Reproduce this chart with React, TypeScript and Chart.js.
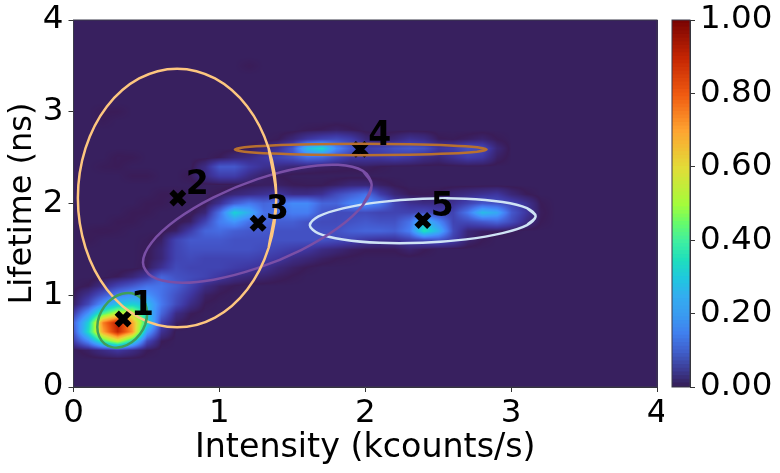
import { useEffect, useRef } from "react";
import { Chart, registerables } from "chart.js";

Chart.register(...registerables);

const FONT = "'DejaVu Sans'";
const axisLimits = [0, 4];
const axisTicks = [0, 1, 2, 3, 4];
const xTitle = "Intensity (kcounts/s)";
const yTitle = "Lifetime (ns)";

// density in hundredths; grid step 0.1 in both axes, first row at lifetime 0.4, first column at intensity 0
const gridStep = 0.1;
const firstRowY = 0.4;
const density: number[][] = [
  [0,1,3,5,3,.5],
  [6,18,40,55,35,8,.5],
  [10,35,70,90,72,22,4],
  [12,32,75,92,70,35,7,1],
  [6,20,42,55,55,30,12,3,.5],
  [1,8,20,30,32,28,15,8,3,.3],
  [.5,4,10,16,20,20,14,9,5,1,.3],
  [0,.5,3,7,10,14,14,11,7,3,1,.3],
  [0,0,0,.5,2,5,12,9,8,7,5,3,2,1.5,.8,.3],
  [0,0,0,0,0,.5,4,8,7,7,7,6,5,4,2,1,.3],
  [0,0,0,0,0,.3,2,7,8,7,7,7,7,6,5,3,2,1,.4,.2],
  [0,0,0,0,0,.3,2,7,9,9,9,9,9,8,7,6,5,3,2,1,.5,.5,.5,1.5,.5],
  [0,.4,0,0,0,.2,1,7,10,10,10,9,9,9,9,9,9,9,8,7,5,4,4,6,8,9,6,1.5,.4],
  [0,.3,.5,.3,0,0,0,1,6,12,13,11,10,10,9,9,9,9,9,11,12,12,11,16,36,26,8,2,1,.7,.2],
  [0,0,0,.4,.4,0,0,0,1,7,16,20,14,12,11,11,9,8,8,9,10,9,9,14,28,18,7,8,10,12,8,3,.4],
  [0,0,0,0,.4,.4,0,0,0,2,14,32,25,14,13,16,16,10,8,8,8,7,7,7,8,6,7,15,28,24,10,5,.6],
  [0,0,0,0,0,.4,.4,0,0,0,4,11,15,12,14,18,18,12,12,17,19,15,7,4,3,3,4,7,10,9,7,4,.4],
  [0,0,0,0,0,0,.4,.4,0,0,.5,2,3,4,5,3,3,4,8,11,14,6,2,.5,.3,.5,2,3,4,5,2,.5],
  [0,0,0,0,0,0,0,0,0,0,0,0,.5,.8,1,.5,.3,.3,1,2,2,1,.3],
  [0,0,0,0,.4,.4,0,0,.5,3,6,6,3,1,.5],
  [0,0,.3,.4,0,0,0,0,0,3,10,10,6,4,3,2,1.5,1,.8,.6,.8,.3],
  [0,0,0,.5,.4,0,0,0,0,0,.5,2,3,5,7,9,13,12,8,5,5,5,6,5,3,2,4,6,5,1],
  [0,0,0,0,0,0,0,0,0,0,0,0,.3,2,4,10,28,34,18,10,6,7,9,10,9,5,6,9,8,2],
  [0,0,0,0,0,0,0,0,0,0,0,0,0,0,.3,2,5,7,8,6,2,.5,2,4,3,.5,.3,.8,1.5,.4],
  [0,0,0,0,0,0,0,0,0,0,0,0,0,0,0,0,.3,.5,1,.5],
  [0,0,.3],
  [0,0,.4,.4],
  [],
  [],
  [],
  [],
  [0,0,0,0,0,0,0,0,0,0,0,0,.4],
];

const ellipse1 = [[.505,.799],[.492,.904],[.455,.982],[.399,1.022],[.334,1.016],[.269,.967],[.213,.88],[.176,.771],[.163,.655],[.176,.55],[.213,.472],[.269,.432],[.334,.438],[.399,.487],[.455,.574],[.492,.683]];
const ellipse2 = [[1.39,2.06],[1.338,2.6],[1.191,3.057],[.97,3.363],[.71,3.47],[.45,3.363],[.229,3.057],[.082,2.6],[.03,2.06],[.082,1.52],[.229,1.063],[.45,.757],[.71,.65],[.97,.757],[1.191,1.063],[1.338,1.52]];
const ellipse3 = [[2.044,2.202],[1.984,2.355],[1.814,2.422],[1.56,2.39],[1.26,2.265],[.96,2.067],[.706,1.825],[.536,1.576],[.476,1.358],[.536,1.205],[.706,1.138],[.96,1.17],[1.26,1.295],[1.56,1.493],[1.814,1.735],[1.984,1.984]];
const ellipse4 = [[2.832,2.589],[2.766,2.613],[2.579,2.633],[2.3,2.646],[1.969,2.651],[1.638,2.646],[1.359,2.633],[1.172,2.613],[1.106,2.589],[1.172,2.565],[1.359,2.545],[1.638,2.532],[1.969,2.527],[2.3,2.532],[2.579,2.545],[2.766,2.565]];
const ellipse5 = [[3.168,1.861],[3.109,1.949],[2.941,2.016],[2.69,2.053],[2.394,2.052],[2.098,2.015],[1.847,1.947],[1.679,1.859],[1.62,1.763],[1.679,1.675],[1.847,1.608],[2.098,1.571],[2.394,1.572],[2.69,1.609],[2.941,1.677],[3.109,1.765]];
const ellipseColors = ["#3f9f5a", "#fdc67f", "#7a4fa6", "#b8702f", "#cfe3f5"];

const centerNames = ["1", "2", "3", "4", "5"];
const centerX = [0.34, 0.715, 1.265, 1.965, 2.395];
const centerY = [0.74, 2.06, 1.785, 2.59, 1.815];

const highStops: [number, string][] = [
  [.25, "#33adf0"], [.3, "#1fc8de"], [.35, "#1fdfbc"],
  [.4, "#40efa0"], [.45, "#67fb6a"], [.5, "#a4fc3b"], [.6, "#e2dc38"], [.7, "#fea431"],
  [.8, "#ef5a11"], [.9, "#c42503"], [1, "#7a0403"],
];
const heatStops: [number, string][] = [
  [0, "#38205f"], [.004, "#3a1c58"], [.015, "#3a2470"], [.05, "#3e36a0"], [.1, "#4458cc"],
  [.15, "#4678ef"], [.2, "#4196fc"], ...highStops,
];
const barStops: [number, string][] = [
  [0, "#341a50"], [.05, "#3c3c94"], [.1, "#4060cc"], [.15, "#4080ef"], [.2, "#3a9bf0"], ...highStops,
];
const colorbarTicks = [0, 0.2, 0.4, 0.6, 0.8, 1];

const hex = (s: string) => [1, 3, 5].map((i) => parseInt(s.slice(i, i + 2), 16));
const toRgb = (stops: [number, string][]) => stops.map(([p, c]) => [p, ...hex(c)]);
const heatRgb = toRgb(heatStops);
const barRgb = toRgb(barStops);
function colorFor(stops: number[][], v: number): number[] {
  for (let i = 1; i < stops.length; i++) {
    if (v <= stops[i][0]) {
      const a = stops[i - 1], b = stops[i];
      const t = (v - a[0]) / (b[0] - a[0]);
      return [a[1] + (b[1] - a[1]) * t, a[2] + (b[2] - a[2]) * t, a[3] + (b[3] - a[3]) * t];
    }
  }
  return stops[stops.length - 1].slice(1);
}
const cell = (r: number, c: number) => (density[r] && density[r][c]) || 0;
function densityAt(x: number, y: number): number {
  const fx = x / gridStep, fy = (y - firstRowY) / gridStep;
  const c = Math.floor(fx), r = Math.floor(fy);
  const tx = fx - c, ty = fy - r;
  return ((cell(r, c) * (1 - tx) + cell(r, c + 1) * tx) * (1 - ty) +
    (cell(r + 1, c) * (1 - tx) + cell(r + 1, c + 1) * tx) * ty) / 100;
}

const heatmapPlugin = {
  id: "heatmap",
  beforeDatasetsDraw(chart: any) {
    const { ctx, chartArea: a, scales } = chart;
    const w = Math.round(a.right - a.left), h = Math.round(a.bottom - a.top);
    const img = ctx.createImageData(w, h);
    for (let j = 0; j < h; j++) {
      const y = scales.y.getValueForPixel(a.top + j + 0.5);
      for (let i = 0; i < w; i++) {
        const x = scales.x.getValueForPixel(a.left + i + 0.5);
        const col = colorFor(heatRgb, densityAt(x, y));
        const k = (j * w + i) * 4;
        img.data[k] = col[0]; img.data[k + 1] = col[1]; img.data[k + 2] = col[2]; img.data[k + 3] = 255;
      }
    }
    ctx.putImageData(img, Math.round(a.left), Math.round(a.top));
  },
};

const labelPlugin = {
  id: "centerLabels",
  afterDatasetsDraw(chart: any) {
    const { ctx, scales } = chart;
    ctx.save();
    ctx.font = `bold 33px ${FONT}`;
    ctx.fillStyle = "#000";
    ctx.textAlign = "left";
    ctx.textBaseline = "alphabetic";
    centerNames.forEach((n, i) => {
      ctx.fillText(n, scales.x.getPixelForValue(centerX[i]) + 8, scales.y.getPixelForValue(centerY[i]) - 4);
    });
    ctx.restore();
  },
};

const framePlugin = {
  id: "frame",
  afterDraw(chart: any) {
    const { ctx, chartArea: a } = chart;
    ctx.save();
    ctx.strokeStyle = "#3a3a4a";
    ctx.lineWidth = 1;
    ctx.strokeRect(a.left, a.top, a.right - a.left, a.bottom - a.top);
    ctx.restore();
  },
};

const closeLoop = (pts: number[][]) =>
  [pts[pts.length - 1], ...pts, pts[0], pts[1]].map(([x, y]) => ({ x, y }));

const noEdgePadding = (s: any) => {
  s.paddingLeft = 0;
  s.paddingRight = 0;
  s.paddingTop = 0;
  s.paddingBottom = 0;
};

export default function App() {
  const mainRef = useRef<HTMLCanvasElement>(null);
  const barRef = useRef<HTMLCanvasElement>(null);

  useEffect(() => {
    const tickFont = { family: FONT, size: 32.5 };
    const scaleBase = {
      type: "linear" as const,
      min: axisLimits[0],
      max: axisLimits[1],
      afterBuildTicks: (s: any) => { s.ticks = axisTicks.map((value) => ({ value })); },
      grid: { drawOnChartArea: false, tickLength: 5, color: "#333" },
      border: { color: "#333" },
    };
    const ellipses = [ellipse1, ellipse2, ellipse3, ellipse4, ellipse5].map((e, i) => ({
      type: "scatter" as const,
      data: closeLoop(e),
      showLine: true,
      tension: 0.34,
      borderColor: ellipseColors[i],
      borderWidth: 2.5,
      pointRadius: 0,
    }));
    const main = new Chart(mainRef.current!, {
      type: "scatter",
      data: {
        datasets: [
          ...ellipses,
          {
            data: centerX.map((x, i) => ({ x, y: centerY[i] })),
            pointStyle: "crossRot",
            pointRadius: 9,
            borderColor: "#000",
            backgroundColor: "#000",
            pointBorderWidth: 6,
            showLine: false,
          },
        ],
      },
      options: {
        animation: false,
        responsive: false,
        layout: { autoPadding: false, padding: { top: 20, right: 7, left: 0, bottom: 0 } },
        plugins: { legend: { display: false }, tooltip: { enabled: false } },
        scales: {
          x: {
            ...scaleBase,
            ticks: { font: tickFont, color: "#000", padding: 2, maxRotation: 0 },
            title: { display: true, text: xTitle, font: { family: FONT, size: 33.3 }, color: "#000", padding: { top: 0, bottom: 5 } },
            afterFit: (s: any) => { s.height = 86; noEdgePadding(s); },
          },
          y: {
            ...scaleBase,
            ticks: { font: tickFont, color: "#000", padding: 5 },
            title: { display: true, text: yTitle, font: { family: FONT, size: 32 }, color: "#000", padding: { top: 3, bottom: 0 } },
            afterFit: (s: any) => { s.width = 73.5; noEdgePadding(s); },
          },
        },
      },
      plugins: [heatmapPlugin, labelPlugin, framePlugin],
    } as any);

    const levels = Array.from({ length: 101 }, (_, i) => i / 100);
    const bar = new Chart(barRef.current!, {
      type: "bar",
      data: {
        datasets: [{
          data: levels.map((y) => ({ x: 1, y })),
          backgroundColor: levels.map((v) => {
            const c = colorFor(barRgb, v);
            return `rgb(${c[0]},${c[1]},${c[2]})`;
          }),
          barThickness: 5,
          borderWidth: 0,
        }],
      },
      options: {
        animation: false,
        responsive: false,
        indexAxis: "y",
        layout: { autoPadding: false, padding: { top: 20, left: 8, right: 0, bottom: 86 } },
        plugins: { legend: { display: false }, tooltip: { enabled: false } },
        scales: {
          x: { type: "linear", min: 0, max: 1, display: false },
          y: {
            type: "linear",
            position: "right",
            offset: false,
            min: 0,
            max: 1,
            afterBuildTicks: (s: any) => { s.ticks = colorbarTicks.map((value) => ({ value })); },
            grid: { drawOnChartArea: false, offset: false, tickLength: 5, color: "#333" },
            border: { color: "#333" },
            ticks: { font: tickFont, color: "#000", padding: 5, callback: (v: any) => Number(v).toFixed(2) },
            afterFit: (s: any) => { s.width = 90; noEdgePadding(s); },
          },
        },
      },
      plugins: [framePlugin],
    } as any);

    return () => {
      main.destroy();
      bar.destroy();
    };
  }, []);

  return (
    <div style={{ position: "fixed", left: 0, top: 0, width: 780, height: 473, background: "#fff" }}>
      <canvas ref={mainRef} width={664} height={473} style={{ position: "absolute", left: 0, top: 0 }} />
      <canvas ref={barRef} width={116} height={473} style={{ position: "absolute", left: 664, top: 0 }} />
    </div>
  );
}
